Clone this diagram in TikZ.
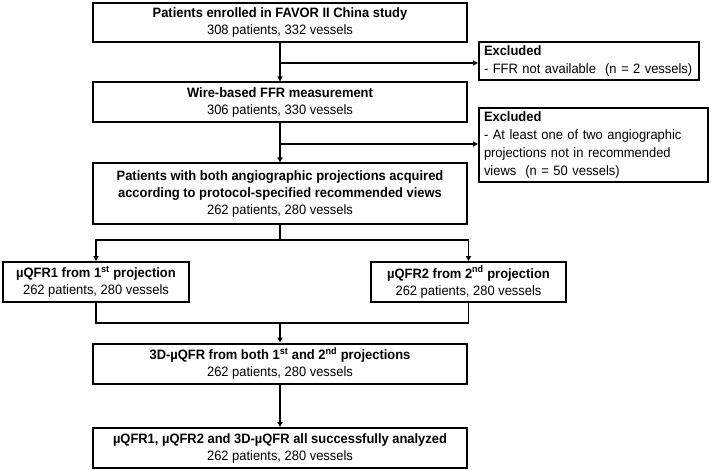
\documentclass[tikz,border=0pt]{standalone}
\usepackage{fontspec}
\setmainfont{Liberation Sans}[FakeStretch=0.95]
\usetikzlibrary{arrows.meta}
\begin{document}
\begin{tikzpicture}[x=1pt,y=-1pt,
  box/.style={draw,line width=2pt,align=center,inner sep=2pt,
    font=\fontsize{13.6}{17}\selectfont},
  mainbox/.style={box,minimum width=374pt,minimum height=40pt},
  qbox/.style={box,minimum height=40pt},
  exbox/.style={draw,line width=2pt,align=left,inner xsep=5pt,inner ysep=2pt,
    font=\fontsize{13.6}{18}\selectfont},
  conn/.style={line width=1.6pt},
  arr/.style={conn,-{Triangle[length=5pt,width=5pt]}}]
\useasboundingbox (0,0) rectangle (711,470);
\node[mainbox,minimum height=39pt] (b1) at (280,22.5) {\textbf{Patients enrolled in FAVOR II China study}\\308 patients, 332 vessels};
\node[mainbox] (b2) at (280,102.5) {\textbf{Wire-based FFR measurement}\\306 patients, 330 vessels};
\node[mainbox,minimum height=60pt] (b3) at (280,193.5) {\textbf{Patients with both angiographic projections acquired}\\\textbf{according to protocol-specified recommended views}\\262 patients, 280 vessels};
\node[qbox,minimum width=186pt] (q1) at (96,282) {\textbf{µQFR1 from 1\textsuperscript{st} projection}\\262 patients, 280 vessels};
\node[qbox,minimum width=195pt] (q2) at (468.5,282) {\textbf{µQFR2 from 2\textsuperscript{nd} projection}\\262 patients, 280 vessels};
\node[mainbox] (b5) at (280,363.5) {\textbf{3D-µQFR from both 1\textsuperscript{st} and 2\textsuperscript{nd} projections}\\262 patients, 280 vessels};
\node[mainbox] (b6) at (280,448) {\textbf{µQFR1, µQFR2 and 3D-µQFR all successfully analyzed}\\262 patients, 280 vessels};
\node[exbox,text width=210pt,minimum height=38pt] (e1) at (589,61) {\textbf{Excluded}\\- FFR not available\ \ (n = 2 vessels)};
\node[exbox,text width=219pt,minimum height=74pt] (e2) at (593.5,145) {\textbf{Excluded}\\- At least one of two angiographic\\projections not in recommended\\views\ \ (n = 50 vessels)};
\coordinate (j1) at (280,63);
\coordinate (j2) at (280,144);
\coordinate (br) at (280,240);
\coordinate (jn) at (280,323);
\draw[arr] (b1.south) -- (b2.north);
\draw[arr] (j1) -- (j1 -| e1.west);
\draw[arr] (b2.south) -- (b3.north);
\draw[arr] (j2) -- (j2 -| e2.west);
\draw[conn] (b3.south) -- (br);
\draw[arr] (br) -| (q1.north);
\draw[arr] (br) -| (q2.north);
\draw[conn] (q1.south) |- (jn);
\draw[conn] (q2.south) |- (jn);
\draw[arr] (jn) -- (b5.north);
\draw[arr] (b5.south) -- (b6.north);
\end{tikzpicture}
\end{document}
